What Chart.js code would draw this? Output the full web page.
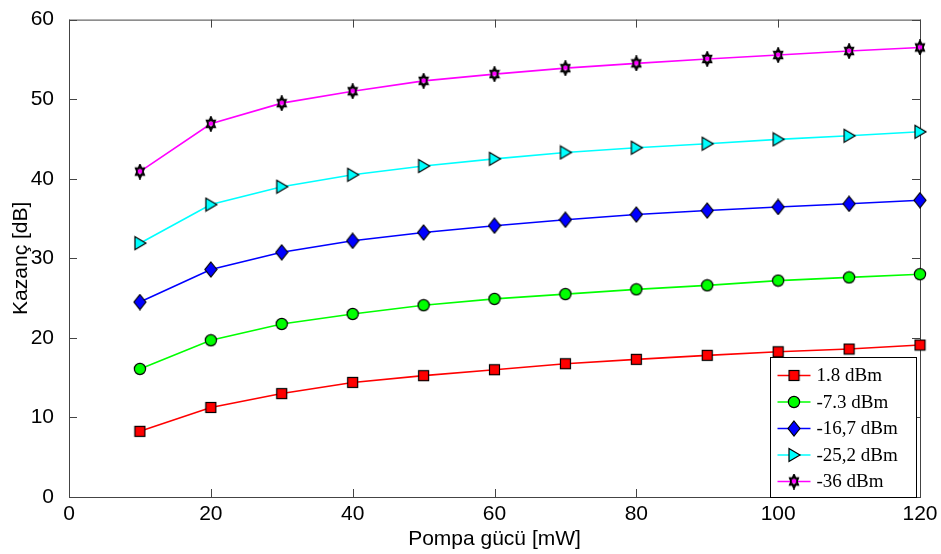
<!DOCTYPE html>
<html>
<head>
<meta charset="utf-8">
<script src="https://cdn.jsdelivr.net/npm/chart.js@4/dist/chart.umd.min.js"></script>
<style>
  html, body { margin: 0; background: #fff; }
  #wrap { width: 941px; height: 554px; }
</style>
</head>
<body>
<div id="wrap"><canvas id="gain"></canvas></div>
<script>
// ---------- DATA ----------
const pumpPower = [10, 20, 30, 40, 50, 60, 70, 80, 90, 100, 110, 120];
const seriesNames = ['1.8 dBm', '-7.3 dBm', '-16,7 dBm', '-25,2 dBm', '-36 dBm'];
const gain_p18  = [8.25, 11.25, 13.0, 14.4, 15.25, 16.0, 16.75, 17.3, 17.8, 18.25, 18.6, 19.1];
const gain_m73  = [16.1, 19.7, 21.75, 23.0, 24.1, 24.9, 25.5, 26.1, 26.6, 27.2, 27.6, 28.0];
const gain_m167 = [24.5, 28.6, 30.75, 32.2, 33.25, 34.1, 34.85, 35.5, 36.0, 36.45, 36.85, 37.3];
const gain_m252 = [31.9, 36.75, 39.0, 40.5, 41.6, 42.5, 43.3, 43.9, 44.4, 44.95, 45.4, 45.9];
const gain_m36  = [40.9, 46.9, 49.5, 51.0, 52.3, 53.15, 53.9, 54.5, 55.05, 55.55, 56.05, 56.5];
const xTicks = [0, 20, 40, 60, 80, 100, 120];
const yTicks = [0, 10, 20, 30, 40, 50, 60];

// ---------- MARKERS ----------
function marker(w, h, draw) {
  const c = document.createElement('canvas');
  c.width = w; c.height = h;
  const g = c.getContext('2d');
  g.lineWidth = 1.2;
  g.strokeStyle = '#000';
  draw(g, w, h);
  return c;
}
const squareMk = marker(13, 13, (g) => {
  g.fillStyle = '#ff0000';
  g.fillRect(1.5, 1.5, 10, 10);
  g.strokeRect(1.5, 1.5, 10, 10);
});
const circleMk = marker(14, 14, (g) => {
  g.fillStyle = '#00ff00';
  g.beginPath(); g.arc(7, 7, 5.6, 0, Math.PI * 2);
  g.fill(); g.stroke();
});
const diamondMk = marker(14, 17, (g, w, h) => {
  g.fillStyle = '#0000ff';
  g.beginPath();
  g.moveTo(w / 2, 1); g.lineTo(w - 1, h / 2); g.lineTo(w / 2, h - 1); g.lineTo(1, h / 2);
  g.closePath(); g.fill(); g.stroke();
});
const triangleMk = marker(16, 16, (g) => {
  g.fillStyle = '#00ffff';
  g.beginPath();
  g.moveTo(3, 1.5); g.lineTo(14, 8); g.lineTo(3, 14.5);
  g.closePath(); g.fill(); g.stroke();
});
// hexagram: two overlapping triangles, a bit taller than wide
const hexMk = marker(12, 16, (g, w, h) => {
  const cx = w / 2, cy = h / 2, rx = 4.8, ry = 6.8;
  const tri = (flip) => {
    g.beginPath();
    for (let i = 0; i < 3; i++) {
      const a = (flip ? Math.PI / 2 : -Math.PI / 2) + i * 2 * Math.PI / 3;
      const px = cx + rx * Math.cos(a), py = cy + ry * Math.sin(a);
      if (i === 0) g.moveTo(px, py); else g.lineTo(px, py);
    }
    g.closePath();
  };
  g.lineWidth = 1.8;
  tri(false); g.stroke();
  tri(true); g.stroke();
  g.fillStyle = '#ff00ff';
  g.fillRect(cx - 2.2, cy - 2.2, 4.4, 3.8);
});

function series(label, values, color, mk) {
  return {
    label: label,
    data: pumpPower.map((x, i) => ({ x: x, y: values[i] })),
    borderColor: color,
    backgroundColor: color,
    borderWidth: 1.6,
    pointStyle: mk,
    pointRadius: 6,
    pointHoverRadius: 6,
    tension: 0,
    clip: false
  };
}

// ---------- FRAME + LEGEND ----------
const framePlugin = {
  id: 'frame',
  beforeDatasetsDraw(chart) {
    const { ctx, chartArea: a, scales } = chart;
    ctx.save();
    ctx.strokeStyle = '#444';
    ctx.lineWidth = 1;
    ctx.strokeRect(a.left + 0.5, a.top + 0.5, a.right - a.left, a.bottom - a.top);
    ctx.beginPath();
    xTicks.forEach(v => {
      const x = Math.round(scales.x.getPixelForValue(v)) + 0.5;
      ctx.moveTo(x, a.bottom); ctx.lineTo(x, a.bottom - 8);
      ctx.moveTo(x, a.top); ctx.lineTo(x, a.top + 8);
    });
    yTicks.forEach(v => {
      const y = Math.round(scales.y.getPixelForValue(v)) + 0.5;
      ctx.moveTo(a.left, y); ctx.lineTo(a.left + 8, y);
      ctx.moveTo(a.right, y); ctx.lineTo(a.right - 8, y);
    });
    ctx.stroke();
    ctx.restore();
  },
  afterDraw(chart) {
    const { ctx, chartArea: a } = chart;
    const bx = 770.5, bw = 146, bh = 140, by = a.bottom - bh + 0.5;
    ctx.save();
    ctx.fillStyle = '#fff';
    ctx.fillRect(bx, by, bw, bh);
    ctx.strokeStyle = '#000';
    ctx.lineWidth = 1;
    ctx.strokeRect(bx, by, bw, bh);
    ctx.font = '19px "Liberation Serif", "Times New Roman", serif';
    ctx.textBaseline = 'middle';
    chart.data.datasets.forEach((ds, i) => {
      const y = by + 18 + i * 26.5;
      ctx.strokeStyle = ds.borderColor;
      ctx.lineWidth = 1.6;
      ctx.beginPath(); ctx.moveTo(bx + 7, y); ctx.lineTo(bx + 40, y); ctx.stroke();
      const mk = ds.pointStyle;
      ctx.drawImage(mk, bx + 23.5 - mk.width / 2, y - mk.height / 2);
      ctx.fillStyle = '#000';
      ctx.fillText(ds.label, bx + 46, y + 1);
    });
    ctx.restore();
  }
};

// ---------- CHART ----------
const tickFont = { family: '"Liberation Sans", Arial, sans-serif', size: 21 };

new Chart(document.getElementById('gain'), {
  type: 'line',
  data: {
    datasets: [
      series(seriesNames[0], gain_p18, '#ff0000', squareMk),
      series(seriesNames[1], gain_m73, '#00ff00', circleMk),
      series(seriesNames[2], gain_m167, '#0000ff', diamondMk),
      series(seriesNames[3], gain_m252, '#00ffff', triangleMk),
      series(seriesNames[4], gain_m36, '#ff00ff', hexMk)
    ]
  },
  options: {
    responsive: true,
    maintainAspectRatio: false,
    animation: false,
    layout: { padding: { top: 17, right: 21, left: 0, bottom: 0 } },
    plugins: {
      legend: { display: false },
      tooltip: { enabled: false }
    },
    scales: {
      x: {
        type: 'linear',
        min: 0, max: 120,
        afterFit(scale) { scale.height = 57; },
        afterBuildTicks(scale) { scale.ticks = xTicks.map(v => ({ value: v })); },
        grid: { display: false },
        border: { display: false },
        ticks: { color: '#000', font: tickFont, padding: -3, maxRotation: 0 },
        title: {
          display: true, text: 'Pompa gücü [mW]', color: '#000',
          font: tickFont, padding: { top: 0, bottom: 2 }
        }
      },
      y: {
        type: 'linear',
        min: 0, max: 60,
        afterFit(scale) { scale.width = 69; },
        afterBuildTicks(scale) { scale.ticks = yTicks.map(v => ({ value: v })); },
        grid: { display: false },
        border: { display: false },
        ticks: { color: '#000', font: tickFont, padding: 7 },
        title: {
          display: true, text: 'Kazanç [dB]', color: '#000',
          font: tickFont, padding: { top: 9, bottom: 0 }
        }
      }
    }
  },
  plugins: [framePlugin]
});
</script>
</body>
</html>
